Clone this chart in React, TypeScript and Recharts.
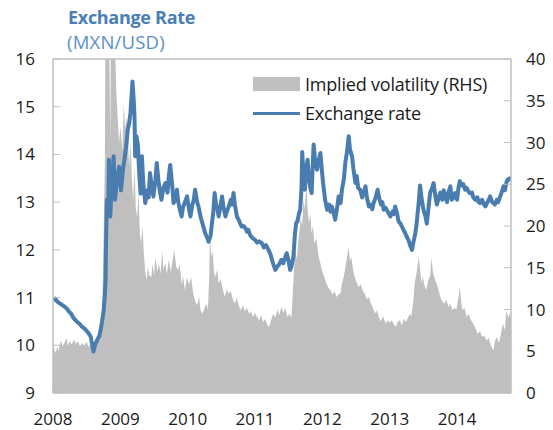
import {
  Area,
  ComposedChart,
  Line,
  ReferenceLine,
  XAxis,
  YAxis,
} from "recharts";

// exchange rate (MXN per USD)
const rateTime = [
  2008.0, 2008.03, 2008.06, 2008.1, 2008.14, 2008.18, 2008.21, 2008.24, 2008.27, 2008.3,
  2008.33, 2008.36, 2008.4, 2008.43, 2008.46, 2008.5, 2008.53, 2008.56, 2008.58, 2008.6,
  2008.63, 2008.66, 2008.69, 2008.72, 2008.75, 2008.77, 2008.78, 2008.79, 2008.8, 2008.82,
  2008.83, 2008.85, 2008.87, 2008.9, 2008.92, 2008.95, 2008.98, 2009.01, 2009.04, 2009.06,
  2009.09, 2009.11, 2009.13, 2009.15, 2009.17, 2009.18, 2009.2, 2009.21, 2009.22, 2009.24,
  2009.26, 2009.28, 2009.3, 2009.32, 2009.34, 2009.37, 2009.4, 2009.42, 2009.44, 2009.47,
  2009.49, 2009.52, 2009.54, 2009.57, 2009.59, 2009.61, 2009.64, 2009.67, 2009.7, 2009.72,
  2009.74, 2009.77, 2009.79, 2009.82, 2009.84, 2009.86, 2009.89, 2009.91, 2009.93, 2009.96,
  2009.99, 2010.02, 2010.04, 2010.07, 2010.09, 2010.11, 2010.14, 2010.16, 2010.19, 2010.22,
  2010.24, 2010.26, 2010.29, 2010.31, 2010.34, 2010.36, 2010.38, 2010.4, 2010.42, 2010.44,
  2010.46, 2010.49, 2010.51, 2010.53, 2010.56, 2010.58, 2010.61, 2010.64, 2010.66, 2010.68,
  2010.7, 2010.73, 2010.76, 2010.78, 2010.8, 2010.83, 2010.86, 2010.88, 2010.9, 2010.93,
  2010.96, 2011.0, 2011.03, 2011.06, 2011.1, 2011.13, 2011.16, 2011.2, 2011.23, 2011.26,
  2011.3, 2011.33, 2011.36, 2011.39, 2011.42, 2011.45, 2011.47, 2011.5, 2011.52, 2011.54,
  2011.57, 2011.59, 2011.61, 2011.63, 2011.65, 2011.67, 2011.69, 2011.7, 2011.72, 2011.74,
  2011.76, 2011.78, 2011.8, 2011.82, 2011.84, 2011.86, 2011.87, 2011.89, 2011.92, 2011.94,
  2011.97, 2011.99, 2012.01, 2012.04, 2012.07, 2012.1, 2012.12, 2012.14, 2012.17, 2012.19,
  2012.22, 2012.24, 2012.27, 2012.29, 2012.32, 2012.34, 2012.37, 2012.39, 2012.41, 2012.44,
  2012.46, 2012.49, 2012.51, 2012.53, 2012.56, 2012.59, 2012.61, 2012.64, 2012.66, 2012.69,
  2012.72, 2012.74, 2012.76, 2012.79, 2012.82, 2012.84, 2012.87, 2012.89, 2012.91, 2012.94,
  2012.97, 2013.01, 2013.04, 2013.06, 2013.08, 2013.11, 2013.13, 2013.16, 2013.18, 2013.21,
  2013.23, 2013.25, 2013.28, 2013.3, 2013.33, 2013.35, 2013.38, 2013.4, 2013.43, 2013.45,
  2013.47, 2013.5, 2013.53, 2013.55, 2013.58, 2013.6, 2013.63, 2013.65, 2013.68, 2013.7,
  2013.73, 2013.75, 2013.78, 2013.8, 2013.82, 2013.85, 2013.87, 2013.9, 2013.92, 2013.95,
  2013.97, 2014.0, 2014.02, 2014.04, 2014.07, 2014.09, 2014.12, 2014.14, 2014.17, 2014.19,
  2014.22, 2014.24, 2014.27, 2014.3, 2014.32, 2014.34, 2014.37, 2014.4, 2014.42, 2014.45,
  2014.47, 2014.49, 2014.52, 2014.54, 2014.56, 2014.59, 2014.61, 2014.64, 2014.66, 2014.69,
  2014.71, 2014.73, 2014.75, 2014.78, 2014.8,
];
const rateValue = [
  10.95, 10.98, 10.92, 10.88, 10.84, 10.8, 10.76, 10.7, 10.66, 10.58,
  10.53, 10.49, 10.44, 10.39, 10.36, 10.3, 10.25, 10.18, 10.02, 9.87,
  10.03, 10.12, 10.2, 10.42, 10.7, 11.05, 11.35, 12.35, 13.05, 12.75,
  13.89, 12.7, 13.3, 13.96, 13.05, 13.45, 13.74, 13.25, 13.7, 13.89,
  14.2, 14.52, 14.65, 14.87, 15.3, 15.53, 15.1, 14.8, 13.96, 14.38,
  14.2, 13.6, 13.18, 13.96, 13.4, 12.98, 13.25, 13.1, 13.61, 13.3,
  13.12, 13.45, 13.82, 13.4, 13.2, 13.05, 13.3, 13.4, 13.2, 13.55,
  13.78, 13.35, 12.98, 13.1, 13.26, 13.0, 12.8, 12.7, 12.9, 13.0,
  13.12, 12.85, 12.7, 12.95, 13.05, 13.26, 13.0, 12.91, 12.7, 12.55,
  12.45, 12.35, 12.25, 12.17, 12.3, 12.56, 12.8, 13.19, 12.95, 12.85,
  12.7, 12.95, 13.12, 12.9, 12.7, 12.8, 12.91, 13.05, 12.95, 13.19,
  12.95, 12.7, 12.62, 12.55, 12.49, 12.5, 12.45, 12.38, 12.42, 12.3,
  12.25, 12.21, 12.15, 12.18, 12.14, 12.05, 12.1, 12.0, 11.9, 11.75,
  11.58, 11.65, 11.7, 11.79, 11.72, 11.85, 11.93, 11.75, 11.58, 11.65,
  11.86, 12.3, 12.56, 12.6, 12.75, 12.84, 13.3, 14.05, 13.55, 13.26,
  13.7, 13.89, 13.5, 13.3, 13.19, 13.9, 14.21, 13.9, 13.68, 13.85,
  14.03, 13.7, 13.4, 13.05, 12.84, 12.95, 12.8, 12.91, 12.75, 12.63,
  12.9, 13.12, 12.98, 13.26, 13.5, 13.82, 14.1, 14.38, 14.1, 13.96,
  13.7, 13.4, 13.55, 13.3, 13.26, 13.1, 13.2, 13.33, 13.1, 12.91,
  12.95, 12.85, 12.98, 13.1, 13.26, 13.1, 12.95, 13.0, 12.84, 12.88,
  12.8, 12.7, 12.8, 12.75, 12.91, 12.75, 12.6, 12.55, 12.49, 12.4,
  12.35, 12.28, 12.2, 12.1, 12.0, 12.15, 12.35, 12.56, 13.0, 13.35,
  13.1, 12.84, 12.7, 12.55, 12.95, 13.2, 13.3, 13.4, 13.1, 12.95,
  13.1, 13.2, 13.05, 13.25, 13.12, 13.0, 13.2, 13.33, 13.05, 13.1,
  13.19, 13.05, 13.3, 13.44, 13.35, 13.38, 13.26, 13.3, 13.22, 13.19,
  13.2, 13.1, 13.05, 13.1, 13.0, 12.98, 13.05, 12.95, 12.91, 13.0,
  13.05, 13.12, 13.0, 12.98, 12.95, 13.05, 13.0, 13.12, 13.2, 13.33,
  13.25, 13.4, 13.47, 13.5, 13.45,
];

// implied volatility (RHS)
const volTime = [
  2008.0, 2008.02, 2008.04, 2008.06, 2008.08, 2008.1, 2008.12, 2008.14, 2008.17, 2008.2,
  2008.22, 2008.25, 2008.28, 2008.31, 2008.34, 2008.37, 2008.4, 2008.43, 2008.46, 2008.5,
  2008.53, 2008.56, 2008.59, 2008.62, 2008.66, 2008.7, 2008.73, 2008.75, 2008.77, 2008.78,
  2008.8, 2008.82, 2008.84, 2008.85, 2008.86, 2008.88, 2008.9, 2008.92, 2008.94, 2008.96,
  2008.98, 2009.0, 2009.03, 2009.05, 2009.07, 2009.09, 2009.11, 2009.13, 2009.15, 2009.17,
  2009.19, 2009.21, 2009.23, 2009.25, 2009.27, 2009.29, 2009.31, 2009.33, 2009.35, 2009.37,
  2009.39, 2009.41, 2009.43, 2009.46, 2009.48, 2009.5, 2009.52, 2009.55, 2009.57, 2009.6,
  2009.62, 2009.64, 2009.67, 2009.69, 2009.72, 2009.75, 2009.77, 2009.8, 2009.83, 2009.86,
  2009.88, 2009.91, 2009.93, 2009.96, 2009.99, 2010.02, 2010.05, 2010.08, 2010.11, 2010.14,
  2010.17, 2010.19, 2010.22, 2010.25, 2010.28, 2010.3, 2010.32, 2010.33, 2010.35, 2010.37,
  2010.39, 2010.41, 2010.44, 2010.46, 2010.49, 2010.52, 2010.55, 2010.58, 2010.61, 2010.64,
  2010.67, 2010.7, 2010.73, 2010.76, 2010.79, 2010.82, 2010.85, 2010.88, 2010.91, 2010.94,
  2010.97, 2011.0, 2011.03, 2011.06, 2011.09, 2011.12, 2011.15, 2011.18, 2011.21, 2011.24,
  2011.27, 2011.3, 2011.33, 2011.36, 2011.39, 2011.42, 2011.45, 2011.48, 2011.51, 2011.54,
  2011.56, 2011.58, 2011.6, 2011.62, 2011.64, 2011.66, 2011.68, 2011.7, 2011.72, 2011.74,
  2011.76, 2011.78, 2011.8, 2011.82, 2011.84, 2011.86, 2011.88, 2011.91, 2011.94, 2011.97,
  2012.0, 2012.03, 2012.06, 2012.09, 2012.12, 2012.15, 2012.18, 2012.21, 2012.24, 2012.27,
  2012.29, 2012.32, 2012.35, 2012.37, 2012.39, 2012.41, 2012.43, 2012.46, 2012.48, 2012.51,
  2012.54, 2012.57, 2012.6, 2012.63, 2012.66, 2012.69, 2012.72, 2012.75, 2012.78, 2012.81,
  2012.84, 2012.87, 2012.9, 2012.94, 2012.97, 2013.0, 2013.03, 2013.06, 2013.09, 2013.12,
  2013.15, 2013.18, 2013.21, 2013.24, 2013.27, 2013.3, 2013.32, 2013.35, 2013.37, 2013.4,
  2013.43, 2013.45, 2013.47, 2013.49, 2013.51, 2013.54, 2013.57, 2013.6, 2013.62, 2013.64,
  2013.66, 2013.69, 2013.72, 2013.75, 2013.78, 2013.81, 2013.84, 2013.87, 2013.9, 2013.93,
  2013.96, 2013.99, 2014.02, 2014.04, 2014.06, 2014.08, 2014.11, 2014.14, 2014.17, 2014.2,
  2014.24, 2014.27, 2014.3, 2014.34, 2014.37, 2014.4, 2014.44, 2014.47, 2014.5, 2014.54,
  2014.56, 2014.59, 2014.62, 2014.65, 2014.68, 2014.71, 2014.73, 2014.76, 2014.78, 2014.8,
];
const volValue = [
  6.0, 5.2, 4.8, 5.5, 5.0, 5.8, 6.3, 5.6, 6.0, 6.6,
  5.7, 6.2, 5.8, 6.4, 5.9, 6.2, 5.6, 6.0, 5.7, 6.1,
  5.5, 5.9, 5.6, 6.3, 6.8, 7.5, 10.0, 18.0, 28.0, 45.0,
  55.0, 48.0, 38.0, 30.0, 45.0, 60.0, 50.0, 42.0, 36.0, 33.0,
  30.0, 31.9, 29.0, 34.7, 31.5, 33.0, 31.0, 27.0, 30.0, 26.0,
  23.0, 27.0, 22.0, 21.1, 24.0, 19.0, 18.0, 20.0, 16.5, 14.5,
  13.5, 15.1, 14.0, 13.9, 15.5, 14.0, 16.3, 14.5, 15.5, 14.3,
  17.1, 14.8, 15.6, 14.2, 16.0, 14.5, 15.6, 17.1, 15.1, 14.7,
  15.5, 13.0, 14.0, 12.3, 13.9, 13.0, 13.9, 12.0, 11.0, 10.5,
  11.5, 9.9, 9.5, 10.2, 10.7, 10.0, 14.0, 18.7, 16.3, 17.0,
  14.5, 13.9, 14.8, 13.1, 13.6, 12.5, 11.5, 12.4, 11.9, 12.2,
  11.2, 10.7, 11.4, 10.4, 9.9, 10.5, 9.8, 10.2, 9.5, 9.8,
  9.1, 9.6, 9.1, 8.7, 9.3, 8.5, 8.9, 8.2, 7.9, 8.8,
  9.5, 9.0, 10.0, 9.3, 10.3, 9.6, 10.2, 9.1, 9.5, 9.0,
  12.0, 15.1, 17.1, 16.0, 17.9, 19.5, 21.0, 20.0, 23.1, 22.0,
  25.1, 22.0, 20.4, 21.5, 19.1, 20.0, 17.9, 18.5, 16.5, 15.5,
  14.5, 13.8, 13.1, 12.6, 12.3, 11.8, 12.2, 11.5, 11.8, 12.0,
  13.1, 14.0, 15.5, 16.5, 17.5, 15.8, 16.3, 14.5, 13.9, 13.2,
  12.7, 13.0, 12.2, 11.9, 11.2, 11.5, 10.7, 10.2, 9.5, 9.9,
  9.0, 8.6, 9.2, 8.3, 8.7, 8.4, 8.7, 8.2, 7.9, 8.5,
  8.7, 8.1, 8.9, 8.5, 9.0, 9.5, 9.2, 11.0, 13.1, 14.5,
  16.3, 15.0, 13.1, 14.0, 13.0, 12.3, 13.5, 14.0, 16.3, 14.5,
  13.9, 13.2, 12.5, 11.5, 11.0, 10.7, 11.2, 10.3, 10.7, 9.9,
  10.2, 10.0, 11.5, 12.7, 11.0, 9.9, 10.2, 9.1, 9.5, 8.8,
  8.3, 7.8, 7.1, 7.4, 6.7, 6.9, 6.3, 6.6, 5.7, 5.1,
  6.2, 6.7, 6.0, 7.0, 8.3, 7.5, 9.9, 9.0, 9.5, 9.1,
];

const yearTicks = [2008, 2009, 2010, 2011, 2012, 2013, 2014];
const rateTicks = [9, 10, 11, 12, 13, 14, 15, 16];
const volTicks = [0, 5, 10, 15, 20, 25, 30, 35, 40];

const rateData = rateTime.map((t, i) => ({ t, rate: rateValue[i] }));
const volData = volTime.map((t, i) => ({ t, vol: volValue[i] }));

const FONT = "'Open Sans', 'DejaVu Sans', sans-serif";
const GRID = "#BFBFBF";
const BLUE = "#4A7DAF";
const tickStyle = { fill: "#1A1A1A", fontSize: 17, fontFamily: FONT };

const App = () => {
  return (
    <div style={{ position: "relative", width: 553, height: 430, margin: "-8px 0 0 -8px", background: "#fff", overflow: "hidden" }}>
      <div style={{ position: "absolute", left: 68, top: 5, fontFamily: FONT, fontSize: 18, fontWeight: 700, color: "#4A7EB5", letterSpacing: -0.3 }}>
        Exchange Rate
      </div>
      <div style={{ position: "absolute", left: 67, top: 29, fontFamily: FONT, fontSize: 18.5, color: "#5B8FC6", letterSpacing: 0.2 }}>
        (MXN/USD)
      </div>
      <div style={{ position: "absolute", left: 0, top: 0 }}>
        <ComposedChart width={553} height={430} margin={{ top: 59, right: 0, bottom: 0, left: 13 }}>
          <XAxis
            dataKey="t"
            type="number"
            domain={[2008, 2014.8]}
            ticks={yearTicks}
            allowDataOverflow
            height={37}
            tickSize={-6}
            tickMargin={26}
            tick={tickStyle}
            axisLine={{ stroke: GRID, strokeWidth: 1.5 }}
            tickLine={{ stroke: GRID }}
          />
          <YAxis
            yAxisId="left"
            orientation="left"
            domain={[9, 16]}
            ticks={rateTicks}
            width={40}
            tickSize={-7}
            tickMargin={25}
            tick={tickStyle}
            axisLine={{ stroke: GRID, strokeWidth: 1.5 }}
            tickLine={{ stroke: GRID }}
          />
          <YAxis
            yAxisId="right"
            orientation="right"
            domain={[0, 40]}
            ticks={volTicks}
            allowDataOverflow
            width={42}
            tickSize={-7}
            tickMargin={22}
            tick={{ ...tickStyle, textAnchor: "start" }}
            axisLine={{ stroke: GRID, strokeWidth: 1.5 }}
            tickLine={{ stroke: GRID }}
          />
          <ReferenceLine yAxisId="left" y={16} stroke={GRID} strokeWidth={1.5} />
          <Area
            data={volData}
            yAxisId="right"
            dataKey="vol"
            type="linear"
            fill={GRID}
            fillOpacity={1}
            stroke="none"
            isAnimationActive={false}
          />
          <Line
            data={rateData}
            yAxisId="left"
            dataKey="rate"
            type="linear"
            stroke={BLUE}
            strokeWidth={4}
            strokeLinejoin="round"
            dot={false}
            isAnimationActive={false}
          />
        </ComposedChart>
      </div>
      <div style={{ position: "absolute", left: 253, top: 71, fontFamily: FONT, fontSize: 18, color: "#1A1A1A", letterSpacing: -0.2 }}>
        <div style={{ display: "flex", alignItems: "center", height: 26 }}>
          <span style={{ width: 47, height: 14, background: GRID, marginRight: 5 }} />
          Implied volatility (RHS)
        </div>
        <div style={{ display: "flex", alignItems: "center", height: 32 }}>
          <span style={{ width: 47, height: 3, background: BLUE, marginRight: 5 }} />
          Exchange rate
        </div>
      </div>
    </div>
  );
};

export default App;
